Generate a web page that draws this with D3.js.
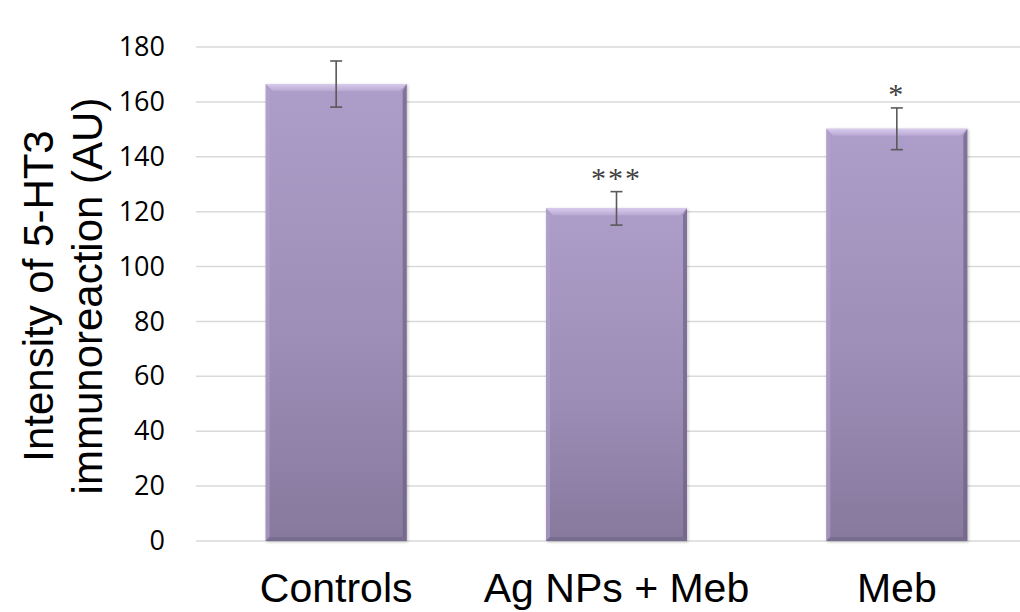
<!DOCTYPE html>
<html>
<head>
<meta charset="utf-8">
<script src="https://cdn.jsdelivr.net/npm/d3@7"></script>
<style>
  body { margin: 0; background: #fff; }
  #chart { width: 1020px; height: 612px; }
</style>
</head>
<body>
<div id="chart"></div>
<script>
// data
const groups = ["Controls", "Ag NPs + Meb", "Meb"];
const means = [166.5, 121.2, 150.2];
const errors = [8.4, 6.1, 7.6];
const stars = ["", "***", "*"];
const yTicks = [0, 20, 40, 60, 80, 100, 120, 140, 160, 180];

const width = 1020, height = 612;
const margin = { top: 47, right: -17, bottom: 71, left: 196 };

const svg = d3.select("#chart").append("svg")
  .attr("width", width)
  .attr("height", height);

const defs = svg.append("defs");
const grad = defs.append("linearGradient")
  .attr("id", "barFill")
  .attr("x1", 0).attr("y1", 0).attr("x2", 0).attr("y2", 1);
grad.append("stop").attr("offset", "0%").attr("stop-color", "#ad9dc9");
grad.append("stop").attr("offset", "55%").attr("stop-color", "#9d8eb7");
grad.append("stop").attr("offset", "100%").attr("stop-color", "#86799d");

const topGrad = defs.append("linearGradient")
  .attr("id", "topBevel")
  .attr("x1", 0).attr("y1", 0).attr("x2", 0).attr("y2", 1);
topGrad.append("stop").attr("offset", "0%").attr("stop-color", "#d8cbec");
topGrad.append("stop").attr("offset", "100%").attr("stop-color", "#b8a8d3");

const shadow = defs.append("filter").attr("id", "shadow")
  .attr("x", "-10%").attr("y", "-10%").attr("width", "120%").attr("height", "120%");
shadow.append("feDropShadow")
  .attr("dx", 1).attr("dy", 1).attr("stdDeviation", 1.5)
  .attr("flood-color", "#000").attr("flood-opacity", 0.25);

// scales
const x = d3.scaleBand()
  .domain(groups)
  .range([margin.left, width - margin.right])
  .paddingInner(0.497)
  .paddingOuter(0.2485);

const y = d3.scaleLinear()
  .domain([0, 180])
  .range([height - margin.bottom, margin.top]);

// gridlines
svg.append("g")
  .selectAll("line")
  .data(yTicks)
  .join("line")
  .attr("x1", margin.left)
  .attr("x2", width)
  .attr("y1", d => y(d))
  .attr("y2", d => y(d))
  .attr("stroke", "#d9d9d9")
  .attr("stroke-width", 1.5);

// y axis labels
const yAxis = svg.append("g")
  .attr("transform", `translate(${margin.left},0)`)
  .call(d3.axisLeft(y).tickValues(yTicks).tickSize(0).tickPadding(31));
yAxis.select(".domain").remove();
yAxis.selectAll("text")
  .attr("font-family", "'Open Sans', sans-serif")
  .attr("font-size", 27)
  .attr("fill", "#000");

// bars
const bw = x.bandwidth();
const bev = 7;
const bars = svg.append("g")
  .selectAll("g")
  .data(groups)
  .join("g")
  .attr("filter", "url(#shadow)");

bars.append("rect")
  .attr("x", d => x(d))
  .attr("y", (d, i) => y(means[i]))
  .attr("width", bw)
  .attr("height", (d, i) => y(0) - y(means[i]))
  .attr("fill", "url(#barFill)");

// bevel facets
bars.append("path")
  .attr("fill", "url(#topBevel)")
  .attr("d", (d, i) => {
    const x0 = x(d), x1 = x(d) + bw, t = y(means[i]);
    return `M${x0},${t}L${x1},${t}L${x1 - bev},${t + bev}L${x0 + bev},${t + bev}Z`;
  });
bars.append("path")
  .attr("fill", "#b3a3cf")
  .attr("opacity", 0.6)
  .attr("d", (d, i) => {
    const x0 = x(d), t = y(means[i]), b = y(0);
    return `M${x0},${t}L${x0 + 4},${t + bev}L${x0 + 4},${b - 4}L${x0},${b}Z`;
  });
bars.append("path")
  .attr("fill", "#6e6284")
  .attr("opacity", 0.7)
  .attr("d", (d, i) => {
    const x1 = x(d) + bw, t = y(means[i]), b = y(0);
    return `M${x1},${t}L${x1 - 4},${t + bev}L${x1 - 4},${b - 4}L${x1},${b}Z`;
  });
bars.append("path")
  .attr("fill", "#6e6284")
  .attr("opacity", 0.55)
  .attr("d", d => {
    const x0 = x(d), x1 = x(d) + bw, b = y(0);
    return `M${x0},${b}L${x0 + 4},${b - 4}L${x1 - 4},${b - 4}L${x1},${b}Z`;
  });

// error bars
const cx = d => x(d) + bw / 2;
const err = svg.append("g")
  .attr("stroke", "#595959")
  .attr("stroke-width", 1.6)
  .attr("fill", "none");
err.selectAll(".v")
  .data(groups)
  .join("line")
  .attr("x1", cx).attr("x2", cx)
  .attr("y1", (d, i) => y(means[i] + errors[i]))
  .attr("y2", (d, i) => y(means[i] - errors[i]));
err.selectAll(".capT")
  .data(groups)
  .join("line")
  .attr("x1", d => cx(d) - 6).attr("x2", d => cx(d) + 6)
  .attr("y1", (d, i) => y(means[i] + errors[i]))
  .attr("y2", (d, i) => y(means[i] + errors[i]));
err.selectAll(".capB")
  .data(groups)
  .join("line")
  .attr("x1", d => cx(d) - 6).attr("x2", d => cx(d) + 6)
  .attr("y1", (d, i) => y(means[i] - errors[i]))
  .attr("y2", (d, i) => y(means[i] - errors[i]));

// significance stars
svg.append("g")
  .selectAll("text")
  .data(groups)
  .join("text")
  .attr("x", cx)
  .attr("y", (d, i) => y(means[i] + errors[i]) - 4)
  .attr("text-anchor", "middle")
  .attr("font-family", "'Liberation Serif', serif")
  .attr("font-size", 30)
  .attr("letter-spacing", 2)
  .attr("fill", "#404040")
  .text((d, i) => stars[i]);

// category labels
svg.append("g")
  .selectAll("text")
  .data(groups)
  .join("text")
  .attr("x", cx)
  .attr("y", 602)
  .attr("text-anchor", "middle")
  .attr("font-family", "'Liberation Sans', Arial, sans-serif")
  .attr("font-size", 41)
  .attr("fill", "#000")
  .text(d => d);

// y title
const title = svg.append("text")
  .attr("transform", "translate(53,296) rotate(-90)")
  .attr("text-anchor", "middle")
  .attr("font-family", "'Liberation Sans', Arial, sans-serif")
  .attr("font-size", 42)
  .attr("fill", "#000");
title.append("tspan").attr("x", 0).attr("y", 0).text("Intensity of 5-HT3");
title.append("tspan").attr("x", 0).attr("y", 49).text("immunoreaction (AU)");
</script>
</body>
</html>
